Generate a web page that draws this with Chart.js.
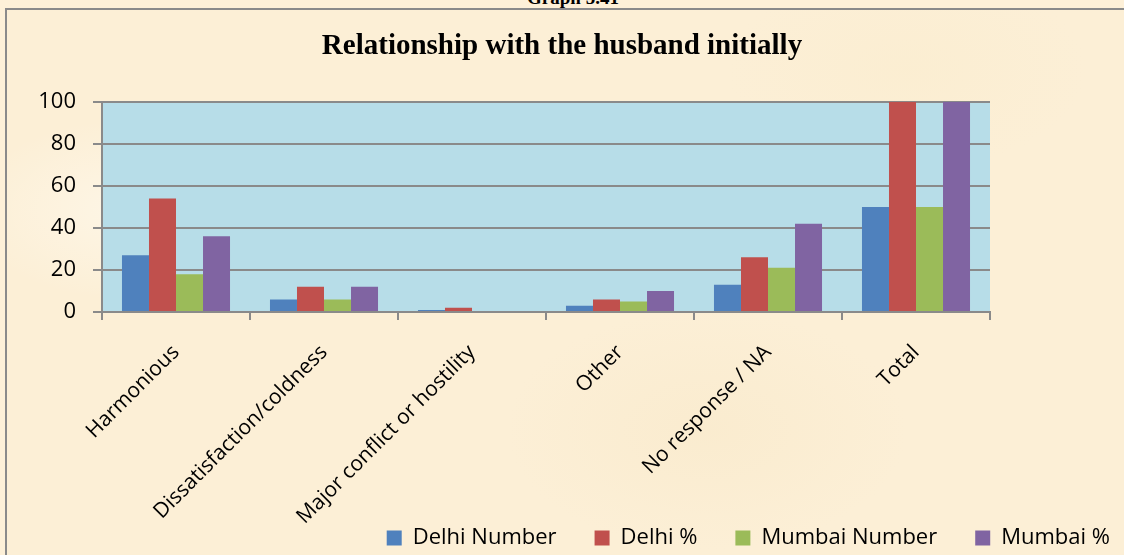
<!DOCTYPE html>
<html>
<head>
<meta charset="utf-8">
<script src="https://cdn.jsdelivr.net/npm/chart.js@4.4.0/dist/chart.umd.min.js"></script>
<style>
  html, body { margin: 0; padding: 0; }
  body {
    width: 1124px; height: 555px; overflow: hidden; position: relative;
    background: #fdf0d8;
  }
  #caption {
    position: absolute; left: 0; width: 1146px; top: -13px; text-align: center;
    font: bold 19px "Liberation Serif", serif; color: #000;
  }
  #frame {
    position: absolute; left: 5px; top: 8px; width: 1130px; height: 560px;
    border-left: 2px solid #8a8a8a; border-top: 2px solid #8a8a8a;
    background:
      radial-gradient(ellipse 160px 90px at 120px 200px, rgba(255,250,240,0.6), transparent),
      radial-gradient(ellipse 200px 120px at 700px 420px, rgba(248,232,200,0.5), transparent),
      radial-gradient(ellipse 180px 100px at 900px 60px, rgba(250,236,205,0.5), transparent),
      #fcefd6;
  }
  #wrap { position: absolute; left: 0; top: 0; width: 1124px; height: 555px; }
</style>
</head>
<body>
<div id="caption">Graph 5.41</div>
<div id="frame"></div>
<div id="wrap"><canvas id="chart"></canvas></div>
<script>
  // categories and series values
  const categories = ['Harmonious', 'Dissatisfaction/coldness', 'Major conflict or hostility', 'Other', 'No response / NA', 'Total'];
  const delhiNumber = [27, 6, 1, 3, 13, 50];
  const delhiPct = [54, 12, 2, 6, 26, 100];
  const mumbaiNumber = [18, 6, 0, 5, 21, 50];
  const mumbaiPct = [36, 12, 0, 10, 42, 100];
  const yTicks = [0, 20, 40, 60, 80, 100];

  const gridGrey = '#8a8a8a';
  const labelFont = '"Open Sans", "Noto Sans", sans-serif';

  // light blue fill behind the bars
  const plotBackground = {
    id: 'plotBackground',
    beforeDraw(chart) {
      const { ctx, chartArea: a } = chart;
      ctx.save();
      ctx.fillStyle = '#b7dde8';
      ctx.fillRect(a.left, a.top, a.right - a.left, a.bottom - a.top);
      ctx.restore();
    }
  };

  // the legend sits in the bottom-right corner, beside the long rotated category labels
  const legendCorner = {
    id: 'legendCorner',
    afterLayout(chart) {
      const lg = chart.legend;
      const h = lg.bottom - lg.top;
      lg.top = 489;
      lg.bottom = lg.top + h;
      lg.left += 24;
      lg.right += 24;
    }
  };

  function series(label, data, color) {
    return { label, data, backgroundColor: color, borderWidth: 0 };
  }

  new Chart(document.getElementById('chart'), {
    type: 'bar',
    data: {
      labels: categories,
      datasets: [
        series('Delhi Number', delhiNumber, '#4f81bd'),
        series('Delhi %', delhiPct, '#c0504d'),
        series('Mumbai Number', mumbaiNumber, '#9bbb59'),
        series('Mumbai %', mumbaiPct, '#8064a2'),
      ],
    },
    options: {
      responsive: true,
      maintainAspectRatio: false,
      animation: false,
      layout: { padding: { left: 0, right: 0, top: 0, bottom: -57 } },
      datasets: { bar: { categoryPercentage: 0.73, barPercentage: 1 } },
      plugins: {
        title: {
          display: true,
          text: 'Relationship with the husband initially',
          color: '#000',
          font: { family: '"Liberation Serif", serif', size: 29, weight: 'bold' },
          padding: { top: 29, bottom: 38 },
        },
        legend: {
          position: 'bottom',
          align: 'end',
          labels: {
            color: '#000',
            font: { family: labelFont, size: 22 },
            boxWidth: 15,
            boxHeight: 15,
            padding: 38,
          },
        },
        tooltip: { enabled: false },
      },
      scales: {
        x: {
          grid: { display: true, drawOnChartArea: false, offset: true, color: gridGrey, lineWidth: 2, tickLength: 8 },
          border: { display: true, color: gridGrey, width: 2 },
          ticks: {
            color: '#000',
            font: { family: labelFont, size: 21 },
            minRotation: 45,
            maxRotation: 45,
            padding: 20,
          },
          afterFit(axis) { axis.height = 230; },
        },
        y: {
          min: 0,
          max: 100,
          afterBuildTicks(axis) { axis.ticks = yTicks.map(v => ({ value: v })); },
          grid: { color: gridGrey, lineWidth: 2, tickLength: 9 },
          border: { display: true, color: gridGrey, width: 2 },
          ticks: {
            color: '#000',
            font: { family: labelFont, size: 22 },
            padding: 17,
          },
          afterFit(axis) { axis.width = 102; },
        },
        // empty right-hand axis that only reserves the margin beside the plot
        yRight: {
          position: 'right',
          display: true,
          grid: { display: false },
          border: { display: false },
          ticks: { display: false },
          afterFit(axis) { axis.width = 134; },
        },
      },
    },
    plugins: [plotBackground, legendCorner],
  });
</script>
</body>
</html>
